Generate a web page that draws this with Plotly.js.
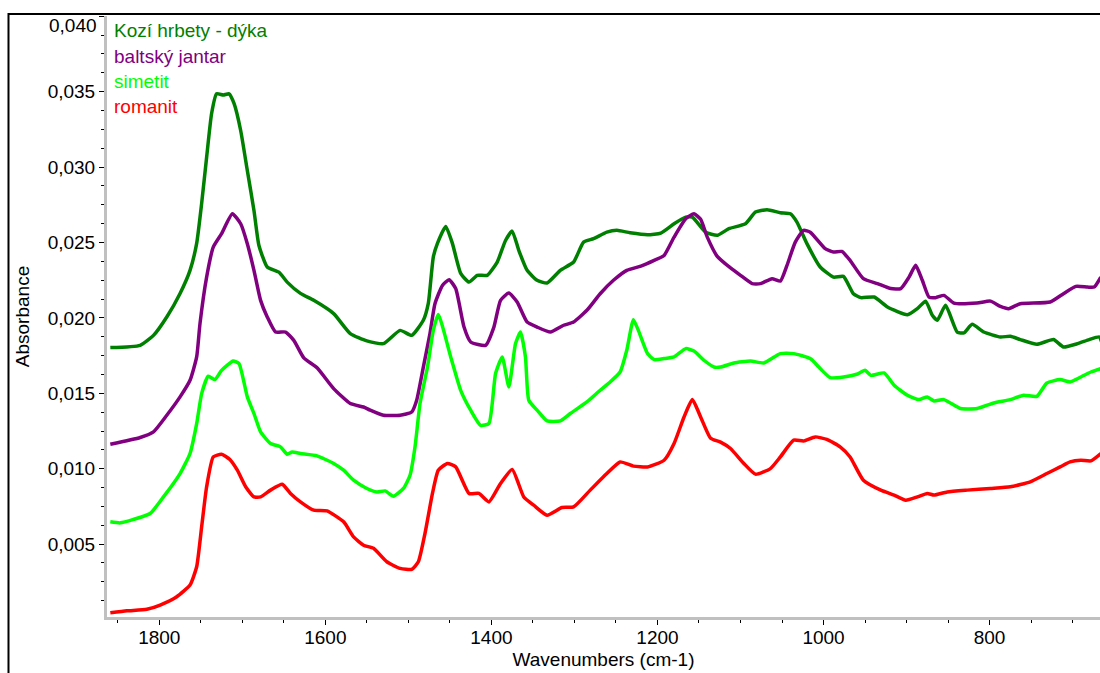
<!DOCTYPE html>
<html>
<head>
<meta charset="utf-8">
<script src="https://cdn.plot.ly/plotly-3.0.1.min.js"></script>
<style>html,body{margin:0;padding:0;background:#fff;}#chart{width:1100px;height:673px;}</style>
</head>
<body>
<div id="chart"></div>
<script>
const seriesNames = ['Kozí hrbety - dýka', 'baltský jantar', 'simetit', 'romanit'];
const seriesColors = ['rgb(0,128,0)', 'rgb(128,0,128)', 'rgb(0,255,0)', 'rgb(255,0,0)'];

const kozi_wn = [1859,1823,1807,1791,1775,1763,1755,1749,1743,1737,1731,1723,1716,1710,1702,1694,1686,1680,1670,1656,1646,1630,1614,1590,1570,1550,1530,1510,1496,1482,1476,1470,1465,1455,1447,1437,1427,1417,1405,1393,1383,1375,1367,1357,1345,1333,1317,1301,1289,1277,1261,1249,1233,1212,1196,1180,1166,1158,1142,1128,1114,1094,1082,1068,1052,1040,1032,1020,1004,988,976,964,955,939,923,899,887,877,869,863,853,839,831,821,807,787,775,763,743,723,711,694,680,668,665];
const kozi_abs = [0.01803,0.01818,0.01884,0.02006,0.02162,0.02315,0.02494,0.02759,0.03065,0.03355,0.03485,0.03477,0.03485,0.03421,0.03242,0.02977,0.02712,0.02480,0.02337,0.02303,0.02237,0.02162,0.02116,0.02028,0.01896,0.01847,0.01829,0.01917,0.01884,0.01984,0.02096,0.02403,0.02494,0.02606,0.02494,0.02295,0.02237,0.02282,0.02282,0.02370,0.02513,0.02575,0.02447,0.02315,0.02249,0.02231,0.02315,0.02370,0.02502,0.02525,0.02568,0.02580,0.02564,0.02551,0.02562,0.02624,0.02668,0.02668,0.02568,0.02547,0.02591,0.02624,0.02701,0.02717,0.02697,0.02690,0.02635,0.02492,0.02337,0.02270,0.02275,0.02160,0.02134,0.02138,0.02072,0.02021,0.02061,0.02111,0.02017,0.01984,0.02083,0.01906,0.01900,0.01957,0.01906,0.01873,0.01878,0.01856,0.01825,0.01856,0.01807,0.01829,0.01856,0.01873,0.01840];

const jantar_wn = [1859,1823,1807,1791,1775,1763,1755,1751,1743,1735,1725,1712,1702,1694,1686,1678,1670,1660,1648,1638,1626,1610,1590,1570,1554,1546,1530,1510,1496,1490,1482,1474,1468,1459,1451,1443,1433,1425,1407,1397,1389,1379,1369,1357,1345,1329,1313,1301,1285,1269,1253,1237,1220,1204,1192,1180,1166,1156,1148,1140,1128,1112,1100,1086,1076,1062,1052,1044,1034,1024,1016,998,988,978,968,952,935,919,907,897,889,881,873,865,855,843,815,799,787,777,763,727,711,696,682,674,666];
const jantar_abs = [0.01162,0.01207,0.01244,0.01354,0.01476,0.01586,0.01741,0.01962,0.02270,0.02469,0.02558,0.02690,0.02624,0.02492,0.02315,0.02116,0.02006,0.01906,0.01906,0.01851,0.01735,0.01669,0.01531,0.01432,0.01409,0.01388,0.01354,0.01354,0.01376,0.01454,0.01674,0.01896,0.02094,0.02215,0.02253,0.02194,0.01939,0.01840,0.01818,0.01939,0.02116,0.02164,0.02105,0.01972,0.01939,0.01906,0.01951,0.01972,0.02050,0.02160,0.02249,0.02315,0.02343,0.02381,0.02414,0.02535,0.02657,0.02690,0.02653,0.02535,0.02408,0.02331,0.02282,0.02227,0.02227,0.02260,0.02244,0.02348,0.02502,0.02580,0.02568,0.02459,0.02436,0.02440,0.02381,0.02260,0.02227,0.02194,0.02194,0.02270,0.02348,0.02249,0.02138,0.02134,0.02149,0.02098,0.02098,0.02111,0.02076,0.02061,0.02094,0.02105,0.02160,0.02209,0.02204,0.02204,0.02270];

const simetit_wn = [1859,1847,1831,1811,1795,1775,1763,1755,1749,1741,1733,1725,1711,1704,1694,1686,1678,1666,1654,1646,1640,1630,1610,1590,1578,1566,1550,1538,1528,1518,1506,1498,1492,1486,1477,1470,1464,1449,1437,1425,1413,1403,1395,1387,1379,1371,1365,1359,1355,1345,1333,1317,1305,1285,1269,1257,1245,1237,1229,1223,1212,1204,1192,1180,1166,1156,1144,1132,1124,1108,1088,1072,1052,1036,1016,1004,992,976,960,950,943,927,915,899,885,875,867,855,835,815,795,775,759,743,731,715,703,690,678,666];
const simetit_abs = [0.00648,0.00641,0.00664,0.00703,0.00813,0.00968,0.01101,0.01299,0.01498,0.01613,0.01591,0.01652,0.01714,0.01697,0.01476,0.01366,0.01244,0.01167,0.01145,0.01096,0.01111,0.01101,0.01085,0.01035,0.00990,0.00924,0.00869,0.00846,0.00853,0.00818,0.00869,0.00957,0.01145,0.01432,0.01674,0.01917,0.02023,0.01741,0.01520,0.01388,0.01288,0.01300,0.01631,0.01741,0.01542,0.01829,0.01906,0.01741,0.01454,0.01388,0.01317,0.01317,0.01366,0.01443,0.01520,0.01575,0.01641,0.01785,0.01988,0.01917,0.01763,0.01723,0.01730,0.01741,0.01796,0.01780,0.01719,0.01674,0.01674,0.01701,0.01714,0.01701,0.01763,0.01763,0.01730,0.01664,0.01604,0.01608,0.01626,0.01652,0.01619,0.01635,0.01553,0.01487,0.01458,0.01476,0.01449,0.01458,0.01399,0.01399,0.01436,0.01458,0.01487,0.01480,0.01568,0.01591,0.01575,0.01608,0.01641,0.01664];

const romanit_wn = [1859,1839,1815,1799,1779,1763,1755,1749,1743,1735,1725,1715,1706,1696,1686,1678,1666,1652,1642,1630,1614,1598,1578,1566,1554,1542,1526,1510,1496,1488,1480,1471,1464,1453,1443,1427,1415,1403,1389,1375,1361,1349,1333,1315,1301,1281,1261,1245,1229,1212,1192,1180,1168,1158,1148,1136,1124,1112,1096,1082,1064,1052,1036,1024,1010,996,980,968,952,931,915,901,887,875,867,851,827,799,775,751,731,715,703,690,678,666];
const romanit_abs = [0.00045,0.00058,0.00068,0.00096,0.00151,0.00229,0.00350,0.00615,0.00880,0.01078,0.01096,0.01061,0.00990,0.00880,0.00813,0.00813,0.00858,0.00897,0.00836,0.00780,0.00725,0.00720,0.00648,0.00548,0.00493,0.00472,0.00383,0.00339,0.00333,0.00383,0.00571,0.00836,0.00990,0.01035,0.01012,0.00836,0.00836,0.00780,0.00902,0.00995,0.00813,0.00758,0.00692,0.00743,0.00747,0.00858,0.00968,0.01045,0.01017,0.01012,0.01056,0.01167,0.01343,0.01458,0.01343,0.01202,0.01176,0.01134,0.01035,0.00964,0.01001,0.01078,0.01189,0.01184,0.01211,0.01194,0.01145,0.01078,0.00924,0.00858,0.00825,0.00791,0.00813,0.00836,0.00825,0.00846,0.00858,0.00869,0.00880,0.00913,0.00968,0.01012,0.01045,0.01056,0.01052,0.01101];

const yTickVals = [0.005, 0.010, 0.015, 0.020, 0.025, 0.030, 0.035, 0.040];
const yTickText = ['0,005', '0,010', '0,015', '0,020', '0,025', '0,030', '0,035', ''];
const yTopLabel = '0,040';

const xTitle = 'Wavenumbers (cm-1)';
const yTitle = 'Absorbance';

const xs = [kozi_wn, jantar_wn, simetit_wn, romanit_wn];
const ys = [kozi_abs, jantar_abs, simetit_abs, romanit_abs];

const FONT = '"Liberation Sans", Arial, sans-serif';

const traces = seriesNames.map((name, i) => ({
  type: 'scatter',
  mode: 'lines',
  name: name,
  x: xs[i],
  y: ys[i],
  line: {color: seriesColors[i], width: 3.5, shape: 'spline', smoothing: 0.5},
  hoverinfo: 'skip'
}));

const legendY = [0.9755, 0.9334, 0.8907, 0.8491];
const annotations = seriesNames.map((name, i) => ({
  xref: 'paper', yref: 'paper',
  x: 0.005, y: legendY[i],
  xanchor: 'left', yanchor: 'middle',
  text: name, showarrow: false,
  font: {family: FONT, size: 19, color: seriesColors[i]}
}));
// top tick label sits slightly below its tick (kept inside the frame), as in the original
annotations.push({
  xref: 'paper', yref: 'y',
  x: 0, y: yTickVals[yTickVals.length - 1],
  xanchor: 'right', yanchor: 'middle', xshift: -8, yshift: -9,
  text: yTopLabel, showarrow: false,
  font: {family: FONT, size: 19, color: 'black'}
});

const layout = {
  width: 1100, height: 673,
  margin: {l: 107, r: 0, t: 16, b: 56, pad: 0},
  paper_bgcolor: 'white', plot_bgcolor: 'white',
  separators: ', ',
  showlegend: false,
  font: {family: FONT, size: 19, color: 'black'},
  xaxis: {
    range: [1863, 667],
    tick0: 0, dtick: 200,
    ticks: 'outside', ticklen: 5, tickwidth: 1, tickcolor: 'black',
    ticklabelstandoff: -4,
    showline: true, linecolor: '#c0c0c0', linewidth: 3,
    showgrid: false, zeroline: false,
    tickfont: {family: FONT, size: 19, color: 'black'},
    minor: {tick0: 0, dtick: 50, ticks: 'outside', ticklen: 3, tickwidth: 1, tickcolor: 'black', showgrid: false},
    title: {text: xTitle, standoff: 6, font: {family: FONT, size: 19, color: 'black'}}
  },
  yaxis: {
    range: [0.00017, 0.04001],
    tickmode: 'array', tickvals: yTickVals, ticktext: yTickText,
    ticks: 'outside', ticklen: 5, tickwidth: 1, tickcolor: 'black',
    showline: true, linecolor: '#c0c0c0', linewidth: 3,
    showgrid: false, zeroline: false,
    tickfont: {family: FONT, size: 19, color: 'black'},
    minor: {tick0: 0, dtick: 0.00125, ticks: 'outside', ticklen: 3, tickwidth: 1, tickcolor: 'black', showgrid: false},
    title: {text: yTitle, standoff: 14, font: {family: FONT, size: 19, color: 'black'}}
  },
  shapes: [{
    type: 'rect', xref: 'paper', yref: 'paper',
    x0: -0.0992, x1: 1.05, y0: -0.2, y1: 1.0033,
    line: {color: 'black', width: 2}, fillcolor: 'rgba(0,0,0,0)', layer: 'above'
  }],
  annotations: annotations
};

Plotly.newPlot('chart', traces, layout, {staticPlot: true, displayModeBar: false});
</script>
</body>
</html>
